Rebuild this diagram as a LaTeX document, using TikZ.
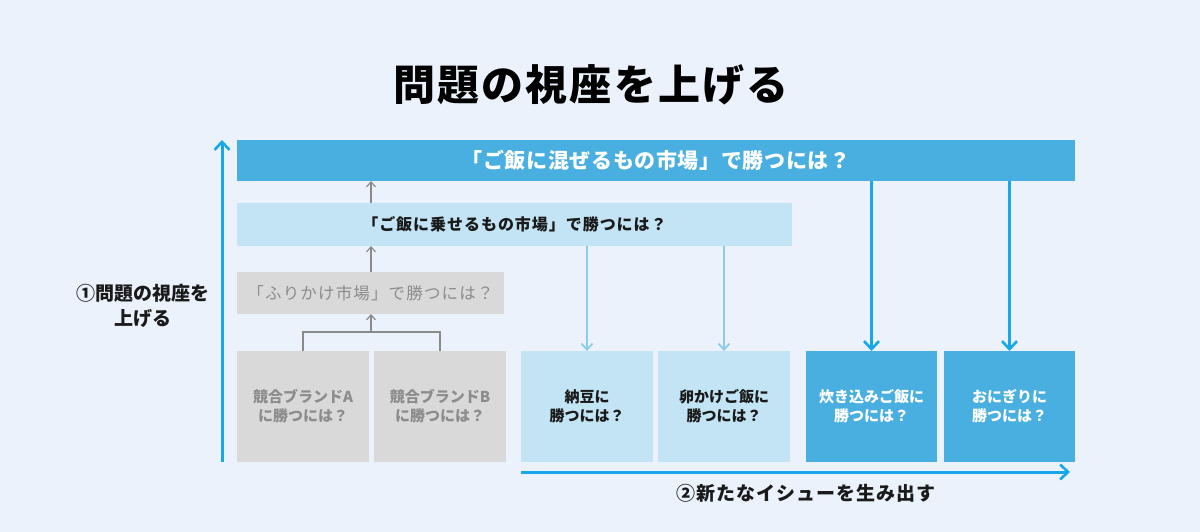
\documentclass[tikz,border=0pt]{standalone}
\usepackage{fontspec}
\newfontfamily\jp{Noto Sans CJK JP}
\usetikzlibrary{arrows.meta,positioning,calc}
\definecolor{bgc}{HTML}{EBF2FB}
\definecolor{midblue}{HTML}{49AFE0}
\definecolor{lightblue}{HTML}{C3E4F5}
\definecolor{grayfill}{HTML}{D9D9D9}
\definecolor{graytext}{HTML}{8C8C8C}
\definecolor{axisblue}{HTML}{16A8E8}
\definecolor{lightarrow}{HTML}{8CCBEA}
\definecolor{grayarrow}{HTML}{8A8A8A}
\definecolor{darktext}{HTML}{1A1A1A}
\newcommand{\lsp}[1]{\addfontfeatures{LetterSpace=#1}}
\tikzset{
  bar/.style={anchor=north west, inner sep=0pt, outer sep=0pt, font=\jp\bfseries},
  boxn/.style={anchor=north west, inner sep=0pt, outer sep=0pt, minimum height=111pt, align=center, font=\jp\bfseries\fontsize{15}{19}\selectfont},
  grayarr/.style={draw=grayarrow, line width=1.3pt, -{Straight Barb[length=5pt,width=9pt,line width=1.2pt]}},
  lightarr/.style={draw=lightarrow, line width=2pt, -{Straight Barb[length=6pt,width=11pt,line width=1.8pt]}},
  thickarr/.style={draw=axisblue, line width=3pt, -{Straight Barb[length=8pt,width=15pt,line width=2.6pt]}},
}
\begin{document}
\begin{tikzpicture}[x=1pt,y=-1pt]
\fill[bgc] (0,0) rectangle (1200,532);
\useasboundingbox (0,0) rectangle (1200,532);

% title
\node[font=\jp\bfseries\fontsize{42}{46}\selectfont\lsp{5}, text=black] (title) at (591,85) {問題の視座を上げる};

% bars
\node[bar, fill=midblue, minimum width=838pt, minimum height=41pt, text=white, font=\jp\bfseries\fontsize{21}{24}\selectfont\lsp{3}] (top) at (237,140) {「ご飯に混ぜるもの市場」で勝つには？};
\node[bar, fill=lightblue, minimum width=555pt, minimum height=43pt, text=darktext, font=\jp\bfseries\fontsize{16}{20}\selectfont\lsp{6}] (sec) at (237,203) {「ご飯に乗せるもの市場」で勝つには？};
\node[bar, fill=grayfill, minimum width=267pt, minimum height=42pt, text=graytext, font=\jp\fontsize{16.5}{20}\selectfont\lsp{7}] (thr) at (237,272) {「ふりかけ市場」で勝つには？};

% bottom boxes
\node[boxn, fill=grayfill, minimum width=132pt, text=graytext] (bA) at (237,351) {競合ブランドA\\に勝つには？};
\node[boxn, fill=grayfill, minimum width=132pt, text=graytext] (bB) at (374,351) {競合ブランドB\\に勝つには？};
\node[boxn, fill=lightblue, minimum width=132pt, text=darktext] (bC) at (521,351) {納豆に\\勝つには？};
\node[boxn, fill=lightblue, minimum width=132pt, text=darktext] (bD) at (658,351) {卵かけご飯に\\勝つには？};
\node[boxn, fill=midblue, minimum width=131pt, text=white] (bE) at (806,351) {炊き込みご飯に\\勝つには？};
\node[boxn, fill=midblue, minimum width=131pt, text=white] (bF) at (944,351) {おにぎりに\\勝つには？};

% axis labels
\node[font=\jp\bfseries\fontsize{19}{25}\selectfont, align=center, text=darktext] (lab1) at (143,306) {①問題の視座を\\上げる};
\node[font=\jp\bfseries\fontsize{19}{22}\selectfont\lsp{5}, text=darktext] (lab2) at (806,493) {②新たなイシューを生み出す};

% coordinates
\coordinate (gx) at (371,0);
\coordinate (brk) at (371,332);
\coordinate (vbot) at (222,462);
\coordinate (vtop) at (222,140);
\coordinate (hl) at (521,472);
\coordinate (hr) at (1070,472);

% axes
\draw[thickarr] (vbot) -- (vtop);
\draw[thickarr] (hl) -- (hr);

% gray arrows
\draw[grayarrow, line width=1.3pt] (bA.north) |- (brk) -| (bB.north);
\draw[grayarr] (brk) -- (thr.south -| gx);
\draw[grayarr] (thr.north -| gx) -- (sec.south -| gx);
\draw[grayarr] (sec.north -| gx) -- (top.south -| gx);

% light arrows
\draw[lightarr] (sec.south -| bC.north) -- (bC.north);
\draw[lightarr] (sec.south -| bD.north) -- (bD.north);

% thick arrows
\draw[thickarr] (top.south -| bE.north) -- (bE.north);
\draw[thickarr] (top.south -| bF.north) -- (bF.north);
\end{tikzpicture}
\end{document}
